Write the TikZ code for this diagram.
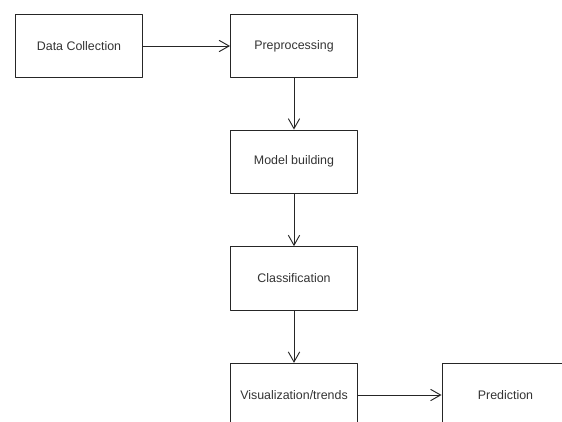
\documentclass[tikz,border=0pt]{standalone}
\usepackage{fontspec}
\setmainfont{Liberation Sans}
\usetikzlibrary{arrows.meta}
\begin{document}
\begin{tikzpicture}[x=0.03cm,y=-0.03cm,>={Straight Barb[length=0.3cm,width=0.34cm]},
	font=\fontsize{10.6}{12}\selectfont, line join=round,
	stagebox/.style={draw=black!85, line width=0.8pt, text=black!80, minimum width=3.81cm, minimum height=1.9cm, inner sep=0pt},
	flow/.style={->, draw=black!85, line width=0.8pt}]
					\clip (0,0) rectangle (562,421);
					\node[stagebox] (collect) at (79,46) {Data Collection};
					\node[stagebox] (prep) at (294,46) {Preprocessing};
					\node[stagebox] (model) at (294,161.7) {Model building};
					\node[stagebox] (classif) at (294,278.3) {Classification};
					\node[stagebox] (visual) at (294,395) {Visualization/trends};
					\node[stagebox] (predict) at (505.5,395) {Prediction};
					\draw[flow] (collect)--(prep);
					\draw[flow] (prep)--(model);
					\draw[flow] (model)--(classif);
					\draw[flow] (classif)--(visual);
					\draw[flow] (visual)--(predict);
				\end{tikzpicture}
\end{document}
